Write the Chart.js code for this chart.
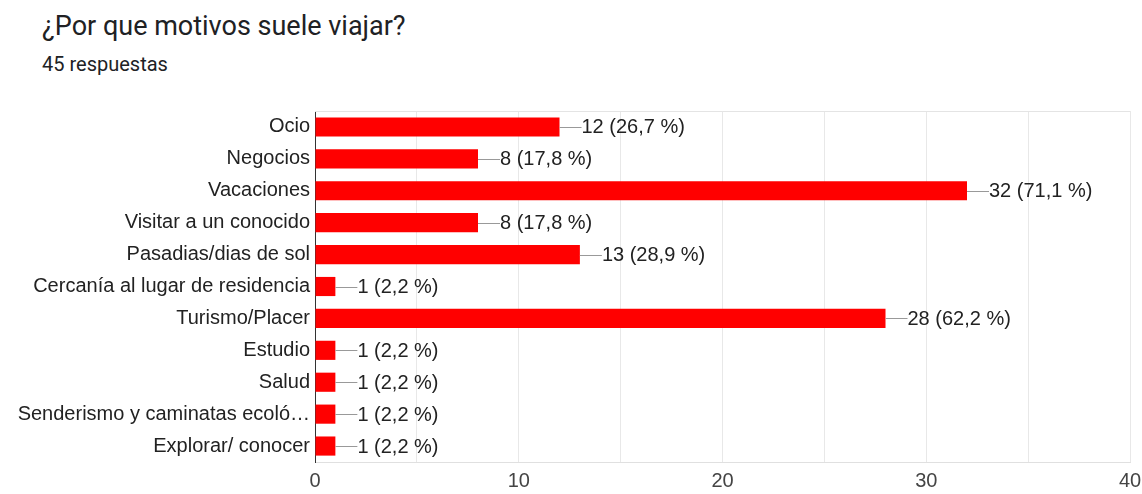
<!DOCTYPE html>
<html>
<head>
<meta charset="utf-8">
<script src="https://cdn.jsdelivr.net/npm/chart.js@4"></script>
<style>
  body { margin: 0; background: #fff; font-family: Roboto, sans-serif; }
  #wrap { position: relative; width: 1142px; height: 494px; }
  #title { position: absolute; left: 42px; top: 13px; font-size: 27px; color: #202124; line-height: 1; }
  #sub { position: absolute; left: 42px; top: 54px; font-size: 20px; color: #202124; line-height: 1; }
  canvas { position: absolute; left: 0; top: 0; }
</style>
</head>
<body>
<div id="wrap">
  <div id="title">¿Por que motivos suele viajar?</div>
  <div id="sub">45 respuestas</div>
  <canvas id="myChart" width="1142" height="494"></canvas>
</div>
<script>
const categories = ["Ocio", "Negocios", "Vacaciones", "Visitar a un conocido", "Pasadias/dias de sol",
    "Cercanía al lugar de residencia", "Turismo/Placer", "Estudio", "Salud",
    "Senderismo y caminatas ecoló…", "Explorar/ conocer"]
const counts = [12, 8, 32, 8, 13, 1, 28, 1, 1, 1, 1]
const percents = ["26,7", "17,8", "71,1", "17,8", "28,9", "2,2", "62,2", "2,2", "2,2", "2,2", "2,2"]
const xTicks = [0, 10, 20, 30, 40]

const ctx = document.getElementById('myChart')
const chartFont = 'Arial, "Liberation Sans", sans-serif'

// leader line + "n (p %)" next to each bar
const valueLabels = {
    id: 'valueLabels',
    afterDatasetsDraw(chart) {
        const c = chart.ctx
        const meta = chart.getDatasetMeta(0)
        c.save()
        c.font = '20px ' + chartFont
        c.textBaseline = 'middle'
        c.textAlign = 'left'
        meta.data.forEach((bar, i) => {
            c.strokeStyle = '#999'
            c.lineWidth = 1
            c.beginPath()
            c.moveTo(bar.x, Math.round(bar.y) + 0.5)
            c.lineTo(bar.x + 22, Math.round(bar.y) + 0.5)
            c.stroke()
            c.fillStyle = '#222'
            c.fillText(counts[i] + ' (' + percents[i] + ' %)', bar.x + 22, bar.y + 1)
        })
        c.restore()
    }
}

// light frame line on top of the plot area
const topLine = {
    id: 'topLine',
    beforeDatasetsDraw(chart) {
        const a = chart.chartArea
        const c = chart.ctx
        c.save()
        c.strokeStyle = '#e4e4e4'
        c.lineWidth = 1
        c.beginPath()
        c.moveTo(a.left, Math.round(a.top) + 0.5)
        c.lineTo(a.right, Math.round(a.top) + 0.5)
        c.stroke()
        c.restore()
    }
}

new Chart(ctx, {
    type: 'bar',
    data: {
        labels: categories,
        datasets: [{
            data: counts,
            backgroundColor: '#ff0000',
            borderWidth: 0,
            barPercentage: 0.6,
            categoryPercentage: 1
        }]
    },
    options: {
        indexAxis: 'y',
        responsive: false,
        animation: false,
        events: [],
        layout: { padding: { top: 111, right: 12, left: 0, bottom: 0 } },
        plugins: {
            legend: { display: false },
            tooltip: { enabled: false }
        },
        scales: {
            x: {
                min: xTicks[0],
                max: xTicks[xTicks.length - 1],
                ticks: {
                    stepSize: 5,
                    padding: 7,
                    color: '#444',
                    font: { family: chartFont, size: 20 },
                    callback: v => xTicks.includes(v) ? v : ''
                },
                grid: { color: '#e8e8e8', drawTicks: false },
                border: { display: true, color: '#e0e0e0' },
                afterFit: s => { s.height = 32; s.paddingRight = 0 }
            },
            y: {
                ticks: {
                    padding: 5,
                    color: '#222',
                    font: { family: chartFont, size: 20 },
                    autoSkip: false
                },
                grid: { display: false, drawTicks: false },
                border: { display: true, color: '#333', width: 1 },
                afterFit: s => { s.width = 315 }
            }
        }
    },
    plugins: [valueLabels, topLine]
})
</script>
</body>
</html>
